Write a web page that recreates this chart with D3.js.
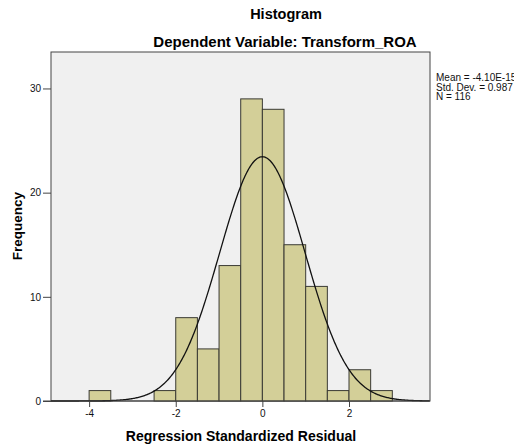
<!DOCTYPE html>
<html>
<head>
<meta charset="utf-8">
<script src="https://cdn.jsdelivr.net/npm/d3@7"></script>
<style>
  body { margin: 0; background: #fff; }
  svg { display: block; font-family: Arial, "Liberation Sans", sans-serif; }
</style>
</head>
<body>
<svg id="chart" width="514" height="446"></svg>
<script>
// bins of the residual histogram (lower edge, upper edge, count)
var binStarts = [-4, -2.5, -2, -1.5, -1, -0.5, 0, 0.5, 1, 1.5, 2, 2.5];
var binEnds   = [-3.5, -2, -1.5, -1, -0.5, 0, 0.5, 1, 1.5, 2, 2.5, 3];
var counts    = [1, 1, 8, 5, 13, 29, 28, 15, 11, 1, 3, 1];
var xTicks = [-4, -2, 0, 2];
var yTicks = [0, 10, 20, 30];
var statLines = ["Mean = -4.10E-15", "Std. Dev. = 0.987", "N = 116"];
var mean = 0, sd = 0.987, n = 116, binWidth = 0.5;

var svg = d3.select("#chart");
var plot = {left: 51, right: 430, top: 52, bottom: 401};

var x = d3.scaleLinear().domain([-4.88, 3.87]).range([plot.left, plot.right]);
var y = d3.scaleLinear().domain([0, 33.5]).range([plot.bottom, plot.top]);

// titles
svg.append("text").attr("x", 286).attr("y", 19).attr("text-anchor", "middle")
    .attr("font-size", 14.5).attr("font-weight", "bold").text("Histogram");
svg.append("text").attr("x", 285).attr("y", 47).attr("text-anchor", "middle")
    .attr("font-size", 15).attr("font-weight", "bold").text("Dependent Variable: Transform_ROA");

// plot background
svg.append("rect").attr("x", plot.left).attr("y", plot.top)
    .attr("width", plot.right - plot.left).attr("height", plot.bottom - plot.top)
    .attr("fill", "#f0f0f0").attr("stroke", "#444").attr("stroke-width", 1);

// bars
svg.append("g").selectAll("rect").data(counts).join("rect")
    .attr("x", function(d, i) { return x(binStarts[i]); })
    .attr("y", function(d) { return y(d); })
    .attr("width", function(d, i) { return x(binEnds[i]) - x(binStarts[i]); })
    .attr("height", function(d) { return y(0) - y(d); })
    .attr("fill", "#d3cf98").attr("stroke", "#3a3a34").attr("stroke-width", 1);

// normal curve from the reported mean / sd / N
var pts = d3.range(-4.88, 3.87, 0.02).map(function(v) {
    var z = (v - mean) / sd;
    return [v, n * binWidth / (sd * Math.sqrt(2 * Math.PI)) * Math.exp(-0.5 * z * z)];
});
svg.append("path").datum(pts)
    .attr("d", d3.line().x(function(d) { return x(d[0]); }).y(function(d) { return y(d[1]); }))
    .attr("fill", "none").attr("stroke", "#111").attr("stroke-width", 1.3);

// axes
var xAxis = svg.append("g").attr("transform", "translate(0," + plot.bottom + ")")
    .call(d3.axisBottom(x).tickValues(xTicks).tickSize(6).tickPadding(3)
        .tickFormat(function(d) { return d; }));
var yAxis = svg.append("g").attr("transform", "translate(" + plot.left + ",0)")
    .call(d3.axisLeft(y).tickValues(yTicks).tickSize(8).tickPadding(2));
[xAxis, yAxis].forEach(function(a) {
    a.select(".domain").remove();
    a.selectAll("line").attr("stroke", "#444");
    a.selectAll("text").attr("font-size", 10).attr("fill", "#111")
        .attr("font-family", "Arial, 'Liberation Sans', sans-serif");
});
svg.append("line").attr("x1", plot.left - 8).attr("x2", plot.right)
    .attr("y1", plot.bottom).attr("y2", plot.bottom).attr("stroke", "#444");

// axis titles
svg.append("text").attr("x", 241).attr("y", 441).attr("text-anchor", "middle")
    .attr("font-size", 14).attr("font-weight", "bold").text("Regression Standardized Residual");
svg.append("text").attr("transform", "translate(22,226) rotate(-90)").attr("text-anchor", "middle")
    .attr("font-size", 13.5).attr("font-weight", "bold").text("Frequency");

// stats box (cut by the right edge, as in the original export)
svg.append("g").selectAll("text").data(statLines).join("text")
    .attr("x", 436).attr("y", function(d, i) { return 81 + i * 9.5; })
    .attr("font-size", 10).attr("fill", "#111").text(function(d) { return d; });
</script>
</body>
</html>
